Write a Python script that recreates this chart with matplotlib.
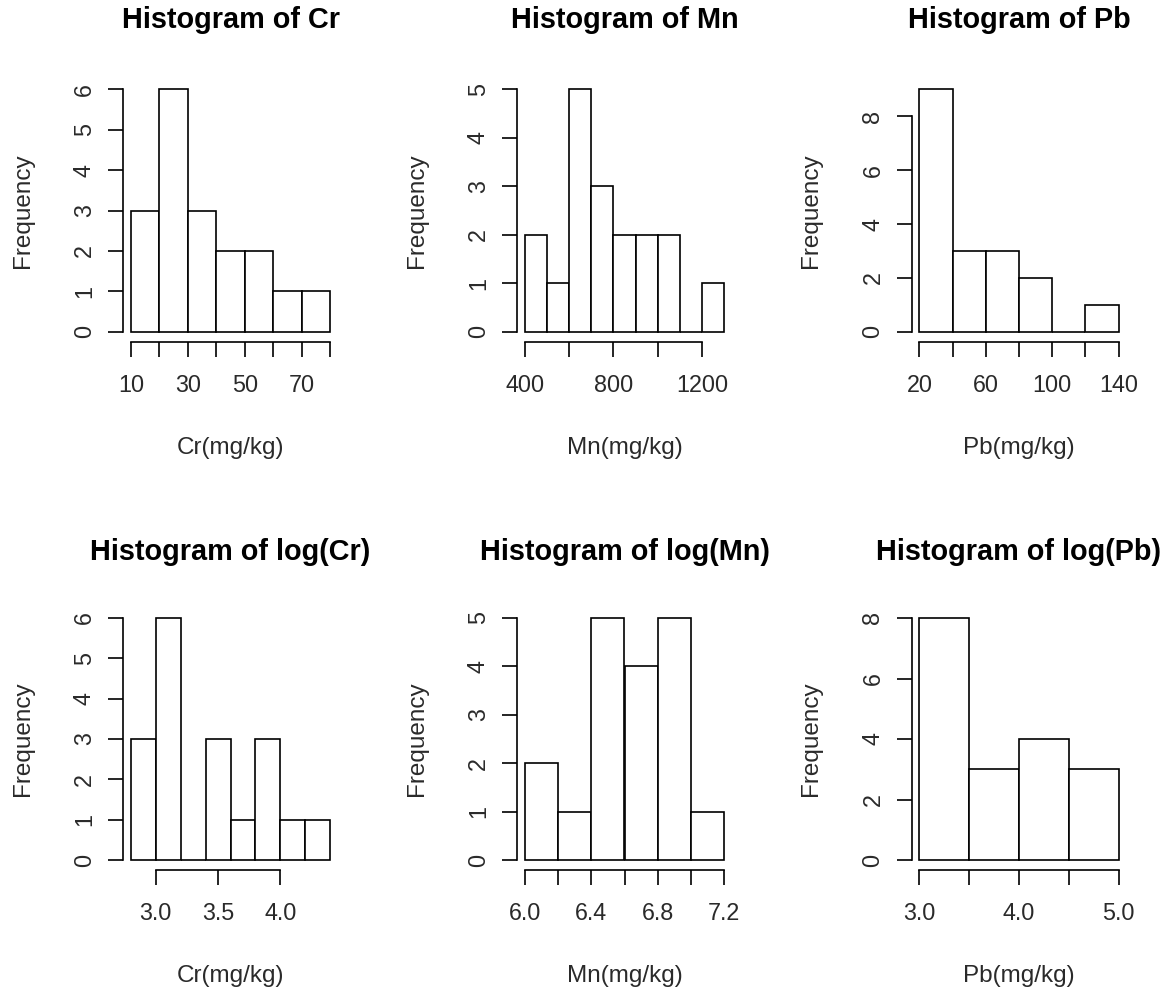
import numpy as np
import matplotlib
matplotlib.use("Agg")
import matplotlib.pyplot as plt

plt.rcParams['font.family'] = ['Liberation Sans', 'DejaVu Sans']

# ---- data ----
titles = ["Histogram of Cr", "Histogram of Mn", "Histogram of Pb",
          "Histogram of log(Cr)", "Histogram of log(Mn)", "Histogram of log(Pb)"]
xlabels = ["Cr(mg/kg)", "Mn(mg/kg)", "Pb(mg/kg)",
           "Cr(mg/kg)", "Mn(mg/kg)", "Pb(mg/kg)"]

cr_edges = [10, 20, 30, 40, 50, 60, 70, 80]
cr_counts = [3, 6, 3, 2, 2, 1, 1]
mn_edges = [400, 500, 600, 700, 800, 900, 1000, 1100, 1200, 1300]
mn_counts = [2, 1, 5, 3, 2, 2, 2, 0, 1]
pb_edges = [20, 40, 60, 80, 100, 120, 140]
pb_counts = [9, 3, 3, 2, 0, 1]
logcr_edges = [2.8, 3.0, 3.2, 3.4, 3.6, 3.8, 4.0, 4.2, 4.4]
logcr_counts = [3, 6, 0, 3, 1, 3, 1, 1]
logmn_edges = [6.0, 6.2, 6.4, 6.6, 6.8, 7.0, 7.2]
logmn_counts = [2, 1, 5, 4, 5, 1]
logpb_edges = [3.0, 3.5, 4.0, 4.5, 5.0]
logpb_counts = [8, 3, 4, 3]

cr_xticks = [10, 20, 30, 40, 50, 60, 70, 80]
cr_xticklabels = ["10", "", "30", "", "50", "", "70", ""]
mn_xticks = [400, 600, 800, 1000, 1200]
mn_xticklabels = ["400", "", "800", "", "1200"]
pb_xticks = [20, 40, 60, 80, 100, 120, 140]
pb_xticklabels = ["20", "", "60", "", "100", "", "140"]
logcr_xticks = [3.0, 3.5, 4.0]
logcr_xticklabels = ["3.0", "3.5", "4.0"]
logmn_xticks = [6.0, 6.2, 6.4, 6.6, 6.8, 7.0, 7.2]
logmn_xticklabels = ["6.0", "", "6.4", "", "6.8", "", "7.2"]
logpb_xticks = [3.0, 3.5, 4.0, 4.5, 5.0]
logpb_xticklabels = ["3.0", "", "4.0", "", "5.0"]

cr_yticks = [0, 1, 2, 3, 4, 5, 6]
mn_yticks = [0, 1, 2, 3, 4, 5]
pb_yticks = [0, 2, 4, 6, 8]
logcr_yticks = [0, 1, 2, 3, 4, 5, 6]
logmn_yticks = [0, 1, 2, 3, 4, 5]
logpb_yticks = [0, 2, 4, 6, 8]

panels = [
    (cr_edges, cr_counts, cr_xticks, cr_xticklabels, cr_yticks),
    (mn_edges, mn_counts, mn_xticks, mn_xticklabels, mn_yticks),
    (pb_edges, pb_counts, pb_xticks, pb_xticklabels, pb_yticks),
    (logcr_edges, logcr_counts, logcr_xticks, logcr_xticklabels, logcr_yticks),
    (logmn_edges, logmn_counts, logmn_xticks, logmn_xticklabels, logmn_yticks),
    (logpb_edges, logpb_counts, logpb_xticks, logpb_xticklabels, logpb_yticks),
]

# ---- layout (pixels) ----
W, H = 1170, 994
fig = plt.figure(figsize=(W / 100, H / 100), dpi=100)
lefts = [123, 517, 911.5]
width = 215
tops = [79.6, 608.3]
heights = [262, 261.5]
title_off = [59.6, 56.3]

FS_TICK = 16.8
FS_LAB = 17.5
FS_TITLE = 20.8
LW = 1.2
TXT = '#2a2a2a'

for i, (edges, counts, xt, xtl, yt) in enumerate(panels):
    r, c = divmod(i, 3)
    l = lefts[c]
    t = tops[r]
    h = heights[r]
    ax = fig.add_axes([l / W, 1 - (t + h) / H, width / W, h / H])
    edges = np.asarray(edges, dtype=float)
    ax.bar(edges[:-1], counts, width=np.diff(edges), align='edge',
           facecolor='white', edgecolor='black', linewidth=LW)
    lo, hi = edges[0], edges[-1]
    ext = 0.04 * (hi - lo)
    ax.set_xlim(lo - ext, hi + ext)
    ymax = max(counts)
    ax.set_ylim(-0.04 * ymax, ymax * 1.04)
    for s in ('top', 'right'):
        ax.spines[s].set_visible(False)
    ax.spines['left'].set_bounds(yt[0], yt[-1])
    ax.spines['bottom'].set_bounds(xt[0], xt[-1])
    for s in ('left', 'bottom'):
        ax.spines[s].set_linewidth(LW)
    ax.set_xticks(xt)
    ax.set_xticklabels(xtl)
    ax.set_yticks(yt)
    ax.set_yticklabels([str(v) for v in yt])
    ax.tick_params(axis='both', direction='out', length=10.5, width=LW,
                   labelsize=FS_TICK, labelcolor=TXT)
    ax.tick_params(axis='x', pad=13)
    ax.tick_params(axis='y', pad=9, labelrotation=90)
    for lab in ax.get_yticklabels():
        lab.set_va('center')
    ax.set_xlabel(xlabels[i], fontsize=FS_LAB, color=TXT, va='center')
    ax.xaxis.set_label_coords(0.5, -106.5 / h)
    ax.set_ylabel("Frequency", fontsize=FS_LAB, color=TXT, va='center')
    ax.yaxis.set_label_coords(-100 / width, 0.5)
    ax.set_title(titles[i], fontsize=FS_TITLE, fontweight='bold',
                 y=1 + title_off[r] / h, va='center', pad=0)
    ax.patch.set_alpha(0)

fig.savefig("out.png", dpi=100, facecolor='white')
